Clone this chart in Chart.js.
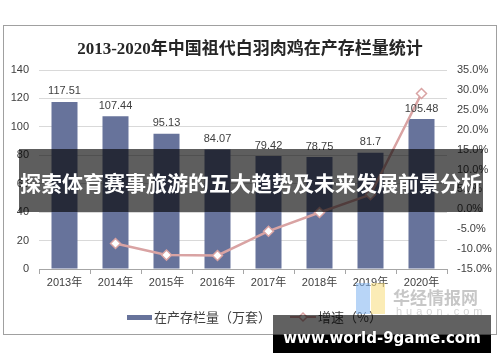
<!DOCTYPE html>
<html>
<head>
<meta charset="utf-8">
<script src="https://cdn.jsdelivr.net/npm/chart.js@4.4.0/dist/chart.umd.min.js"></script>
<style>
  html, body { margin: 0; padding: 0; background: #fff; }
  #wrap { position: relative; width: 500px; height: 362px; overflow: hidden; }
  #frame { position: absolute; left: 3px; top: 25px; width: 492px; height: 308px; border: 1px solid #a0a0a0; }
  #graf { position: absolute; left: 0; top: 0; }
  #titulo { position: absolute; left: 0; top: 34px; width: 500px; text-align: center;
    font: bold 17px "Liberation Serif", "Noto Sans CJK SC", serif; color: #262626; }
  #banda { position: absolute; left: 19px; top: 149px; width: 464px; height: 63px;
    background: rgba(0,0,0,0.63); color: #fff; text-align: center;
    font: bold 21px "Noto Sans CJK SC", sans-serif; line-height: 66px; white-space: nowrap; }
  #logo { position: absolute; left: 356px; top: 281px; width: 130px; height: 36px; opacity: 0.55; }
  #logo .azul { position: absolute; left: 0; top: 2px; width: 14px; height: 31px; background: #7fb2f0; }
  #logo .amar { position: absolute; left: 15px; top: 2px; width: 14px; height: 31px; background: #f7dc7a; }
  #logo .txt { position: absolute; left: 37px; top: 3px; font: bold 17px "Noto Sans CJK SC", sans-serif; color: #9a9a9a; }
  #logo .web { position: absolute; left: 40px; top: 24px; font: 11px "Liberation Sans", sans-serif; color: #b0b0b0; letter-spacing: 4px; }
  #marca { position: absolute; left: 273px; top: 315px; width: 218px; height: 38px; }
  #marca .gris { position: absolute; left: 0; top: 0; width: 218px; height: 20px; background: rgba(0,0,0,0.62); }
  #marca .negro { position: absolute; left: 0; top: 20px; width: 218px; height: 18px; background: #000; }
  #marca .txt { position: absolute; left: 0; top: 13px; width: 218px; text-align: center; white-space: nowrap;
    font: bold 15px "DejaVu Sans", sans-serif; color: #fff; line-height: 20px; }
</style>
</head>
<body>
<div id="wrap">
  <div id="frame"></div>
  <canvas id="graf" width="500" height="362"></canvas>
  <div id="titulo">2013-2020年中国祖代白羽肉鸡在产存栏量统计</div>
  <div id="logo"><div class="azul"></div><div class="amar"></div><div class="txt">华经情报网</div><div class="web">huaon.com</div></div>
  <div id="banda">探索体育赛事旅游的五大趋势及未来发展前景分析</div>
  <div id="marca"><div class="gris"></div><div class="negro"></div><div class="txt">www.world-9game.com</div></div>
</div>
<script>
// datos
const anios = ['2013年', '2014年', '2015年', '2016年', '2017年', '2018年', '2019年', '2020年'];
const existencias = [117.51, 107.44, 95.13, 84.07, 79.42, 78.75, 81.7, 105.48];
const crecimiento = [null, -8.6, -11.5, -11.6, -5.5, -0.8, 3.7, 29.1];

const colorBarra = '#67739b';
const colorLinea = '#d9a3a3';

// etiquetas de valor encima de las barras
const etiquetasBarras = {
    id: 'etiquetasBarras',
    afterDatasetsDraw(chart) {
        const ctx = chart.ctx;
        const meta = chart.getDatasetMeta(0);
        ctx.save();
        ctx.font = '11px "Liberation Sans", Arial, sans-serif';
        ctx.fillStyle = '#404040';
        ctx.textAlign = 'center';
        ctx.textBaseline = 'bottom';
        meta.data.forEach((bar, i) => {
            ctx.fillText(String(existencias[i]), bar.x, bar.y - 5);
        });
        ctx.restore();
    }
};

// leyenda dibujada a mano
const leyenda = {
    id: 'leyenda',
    afterDraw(chart) {
        const ctx = chart.ctx;
        const y = 317;
        ctx.save();
        ctx.font = '13px "Noto Sans CJK SC", sans-serif';
        ctx.textBaseline = 'middle';
        ctx.fillStyle = colorBarra;
        ctx.fillRect(127, y - 2, 25, 5);
        ctx.fillStyle = '#404040';
        ctx.fillText(chart.data.datasets[0].label, 154, y);
        ctx.strokeStyle = colorLinea;
        ctx.lineWidth = 2;
        ctx.beginPath();
        ctx.moveTo(290, y);
        ctx.lineTo(316, y);
        ctx.stroke();
        ctx.fillStyle = '#fff';
        ctx.lineWidth = 1.5;
        ctx.beginPath();
        ctx.moveTo(303, y - 4);
        ctx.lineTo(307, y);
        ctx.lineTo(303, y + 4);
        ctx.lineTo(299, y);
        ctx.closePath();
        ctx.fill();
        ctx.stroke();
        ctx.fillStyle = '#404040';
        ctx.fillText(chart.data.datasets[1].label, 318, y);
        ctx.restore();
    }
};

const ctx = document.getElementById('graf').getContext('2d');

new Chart(ctx, {
    data: {
        labels: anios,
        datasets: [{
            type: 'bar',
            label: '在产存栏量（万套）',
            data: existencias,
            backgroundColor: colorBarra,
            yAxisID: 'y',
            barPercentage: 0.51,
            categoryPercentage: 1,
            order: 2
        }, {
            type: 'line',
            label: '增速（%）',
            data: crecimiento,
            borderColor: colorLinea,
            borderWidth: 2.5,
            pointStyle: 'rectRot',
            pointRadius: 5,
            pointBackgroundColor: '#fff',
            pointBorderColor: colorLinea,
            pointBorderWidth: 1.5,
            tension: 0,
            yAxisID: 'y1',
            order: 1
        }]
    },
    options: {
        responsive: false,
        animation: false,
        layout: { padding: { top: 70, left: 0, right: 0, bottom: 73 } },
        plugins: {
            legend: { display: false },
            title: { display: false },
            tooltip: { enabled: false }
        },
        scales: {
            x: {
                offset: true,
                grid: { offset: true, drawOnChartArea: false, color: '#a6a6a6', tickLength: 5 },
                border: { display: true, color: '#a6a6a6' },
                ticks: { color: '#404040', font: { size: 11, family: '"Liberation Sans", "Noto Sans CJK SC", sans-serif' }, padding: 2, maxRotation: 0 },
                afterFit(scale) { scale.height = 20; }
            },
            y: {
                position: 'left',
                min: 0,
                max: 140,
                ticks: { stepSize: 20, color: '#404040', padding: 10, font: { size: 11, family: '"Liberation Sans", Arial, sans-serif' } },
                grid: { color: '#d9d9d9', drawTicks: false },
                border: { display: false },
                afterFit(scale) { scale.width = 39; }
            },
            y1: {
                position: 'right',
                min: -15,
                max: 35,
                ticks: {
                    stepSize: 5,
                    color: '#404040',
                    padding: 10,
                    font: { size: 11, family: '"Liberation Sans", Arial, sans-serif' },
                    callback: v => v.toFixed(1) + '%'
                },
                grid: { drawOnChartArea: false, drawTicks: false },
                border: { display: false },
                afterFit(scale) { scale.width = 53; }
            }
        }
    },
    plugins: [etiquetasBarras, leyenda]
});
</script>
</body>
</html>
